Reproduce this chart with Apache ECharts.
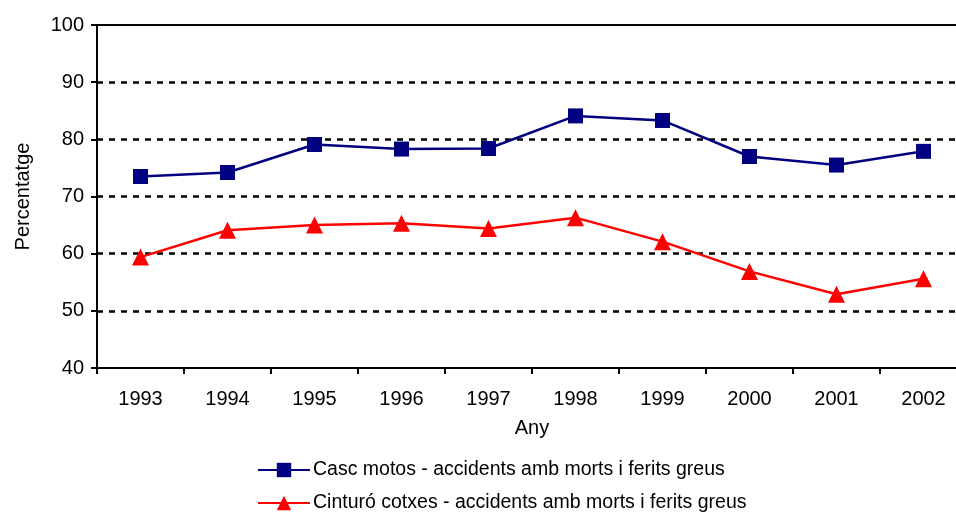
<!DOCTYPE html>
<html>
<head>
<meta charset="utf-8">
<script src="https://cdn.jsdelivr.net/npm/echarts@6/dist/echarts.min.js"></script>
<style>
  html, body { margin: 0; padding: 0; background: #fff; }
  #main { width: 956px; height: 516px; }
</style>
</head>
<body>
<div id="main"></div>
<script>
var myChart = echarts.init(document.getElementById('main'));

// dades
var anys = ['1993', '1994', '1995', '1996', '1997', '1998', '1999', '2000', '2001', '2002'];
var cascMotos = [73.5, 74.2, 79.1, 78.3, 78.4, 84.1, 83.3, 77.0, 75.5, 77.9];
var cinturoCotxes = [59.4, 64.1, 65.0, 65.3, 64.4, 66.3, 62.1, 56.9, 52.9, 55.6];
var nomsSeries = ['Casc motos - accidents amb morts i ferits greus', 'Cinturó cotxes - accidents amb morts i ferits greus'];

var font = 'Liberation Sans, Arial, sans-serif';

var option = {
  backgroundColor: '#fff',
  animation: false,
  grid: {
    left: 97,
    top: 25,
    width: 870,
    height: 343,
    outerBoundsMode: 'none'
  },
  legend: {
    orient: 'vertical',
    left: 257,
    top: 460,
    height: 80,
    padding: 0,
    itemWidth: 52,
    itemHeight: 18,
    itemGap: 13,
    textStyle: { fontFamily: font, fontSize: 19.5, lineHeight: 20, color: '#000', padding: [0, 0, 0, -2] },
    data: nomsSeries
  },
  xAxis: [{
    type: 'category',
    data: anys,
    boundaryGap: true,
    name: 'Any',
    nameLocation: 'middle',
    nameGap: 50,
    nameTextStyle: { fontFamily: font, fontSize: 20, color: '#000' },
    axisLine: { lineStyle: { color: '#000', width: 2 } },
    axisTick: { show: true, length: 6, inside: false, lineStyle: { color: '#000', width: 2 } },
    axisLabel: { fontFamily: font, fontSize: 20, color: '#000', margin: 21 },
    splitLine: { show: false }
  }, {
    type: 'category',
    data: anys,
    position: 'top',
    axisLine: { lineStyle: { color: '#000', width: 2 } },
    axisTick: { show: false },
    axisLabel: { show: false },
    splitLine: { show: false }
  }],
  yAxis: {
    type: 'value',
    min: 40,
    max: 100,
    interval: 10,
    name: 'Percentatge',
    nameLocation: 'middle',
    nameGap: 64,
    nameTextStyle: { fontFamily: font, fontSize: 20, color: '#000' },
    axisLine: { show: true, lineStyle: { color: '#000', width: 2 } },
    axisTick: { show: true, length: 6, lineStyle: { color: '#000', width: 2 } },
    axisLabel: { fontFamily: font, fontSize: 20, color: '#000', margin: 13 },
    splitLine: {
      show: true,
      showMinLine: false,
      showMaxLine: false,
      lineStyle: { color: '#000', width: 2.5, type: [6, 6] }
    }
  },
  series: [{
    name: nomsSeries[0],
    type: 'line',
    data: cascMotos,
    symbol: 'rect',
    symbolSize: 15,
    lineStyle: { color: '#000080', width: 2.5 },
    itemStyle: { color: '#000080' }
  }, {
    name: nomsSeries[1],
    type: 'line',
    data: cinturoCotxes,
    symbol: 'triangle',
    symbolSize: 17,
    lineStyle: { color: '#ff0000', width: 2.5 },
    itemStyle: { color: '#ff0000' }
  }]
};

myChart.setOption(option);
</script>
</body>
</html>
